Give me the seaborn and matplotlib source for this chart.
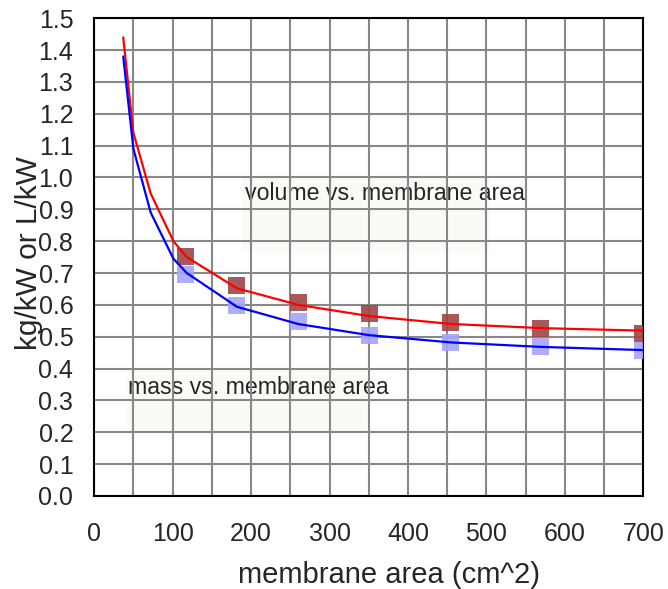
import seaborn as sns
import matplotlib.pyplot as plt
import matplotlib.patches as mpatches
import numpy as np
import pandas as pd

# fitted curves
curve_x = [37, 50, 72, 101, 118, 182, 260, 350, 455, 570, 700]
volume_curve = [1.44, 1.14, 0.95, 0.80, 0.75, 0.652, 0.60, 0.565, 0.54, 0.527, 0.519]
mass_curve = [1.38, 1.09, 0.89, 0.745, 0.70, 0.594, 0.54, 0.505, 0.482, 0.468, 0.458]

# measured points
point_x = [117, 182, 260, 351, 454, 569, 699]
volume_pts = [0.751, 0.662, 0.607, 0.574, 0.546, 0.526, 0.51]
mass_pts = [0.696, 0.598, 0.547, 0.505, 0.483, 0.468, 0.456]

sns.set_style("white")
plt.rcParams['font.family'] = ['Liberation Sans', 'DejaVu Sans']

curves = pd.DataFrame({"x": curve_x, "volume": volume_curve, "mass": mass_curve})
points = pd.DataFrame({"x": point_x, "volume": volume_pts, "mass": mass_pts})

fig = plt.figure(figsize=(6.68, 5.89), dpi=100)
ax = fig.add_axes([0.141, 0.158, 0.822, 0.811])

# faint label boxes + labels (under the grid)
ax.add_patch(mpatches.Rectangle((189, 0.766), 316, 0.232, facecolor="#fbfaf7", edgecolor="none", zorder=0.8))
ax.add_patch(mpatches.Rectangle((42, 0.198), 310, 0.197, facecolor="#fbfaf7", edgecolor="none", zorder=0.8))
ax.text(192, 0.951, "volume vs. membrane area", fontsize=16.7, va="center", ha="left", zorder=1)
ax.text(43, 0.342, "mass vs. membrane area", fontsize=16.7, va="center", ha="left", zorder=1)

sns.scatterplot(data=points, x="x", y="volume", marker="s", s=150, color="#a04646",
                alpha=0.9, edgecolor="none", ax=ax, zorder=2.6)
sns.scatterplot(data=points, x="x", y="mass", marker="s", s=150, color="#a4a4fc",
                alpha=0.9, edgecolor="none", ax=ax, zorder=2.6)
sns.lineplot(data=curves, x="x", y="volume", color="red", linewidth=1.6, ax=ax, zorder=3)
sns.lineplot(data=curves, x="x", y="mass", color="blue", linewidth=1.6, ax=ax, zorder=3)

ax.set_xlim(0, 700)
ax.set_ylim(0, 1.5)
ax.set_xticks(np.arange(0, 701, 100))
ax.set_xticks(np.arange(50, 700, 100), minor=True)
ax.set_yticks(np.arange(0, 1.51, 0.1))
ax.set_yticklabels([f"{v:.1f}" for v in np.arange(0, 1.51, 0.1)])

ax.set_axisbelow("line")
ax.grid(which="both", color="#888888", linewidth=1.5)
ax.tick_params(axis="both", which="both", direction="inout", length=12, width=1.5, color="#888888",
               labelsize=18)
ax.tick_params(axis="y", which="both", pad=9)
ax.tick_params(axis="x", which="both", pad=12.7)
for s in ax.spines.values():
    s.set_visible(True)
    s.set_color("black")
    s.set_linewidth(1.5)

ax.set_xlabel("membrane area (cm^2)", fontsize=21)
ax.xaxis.set_label_coords(0.536, -0.136)
ax.set_ylabel("kg/kW or L/kW", fontsize=21.5)
ax.yaxis.set_label_coords(-0.093, 0.508)

plt.savefig("out.png", dpi=100)
